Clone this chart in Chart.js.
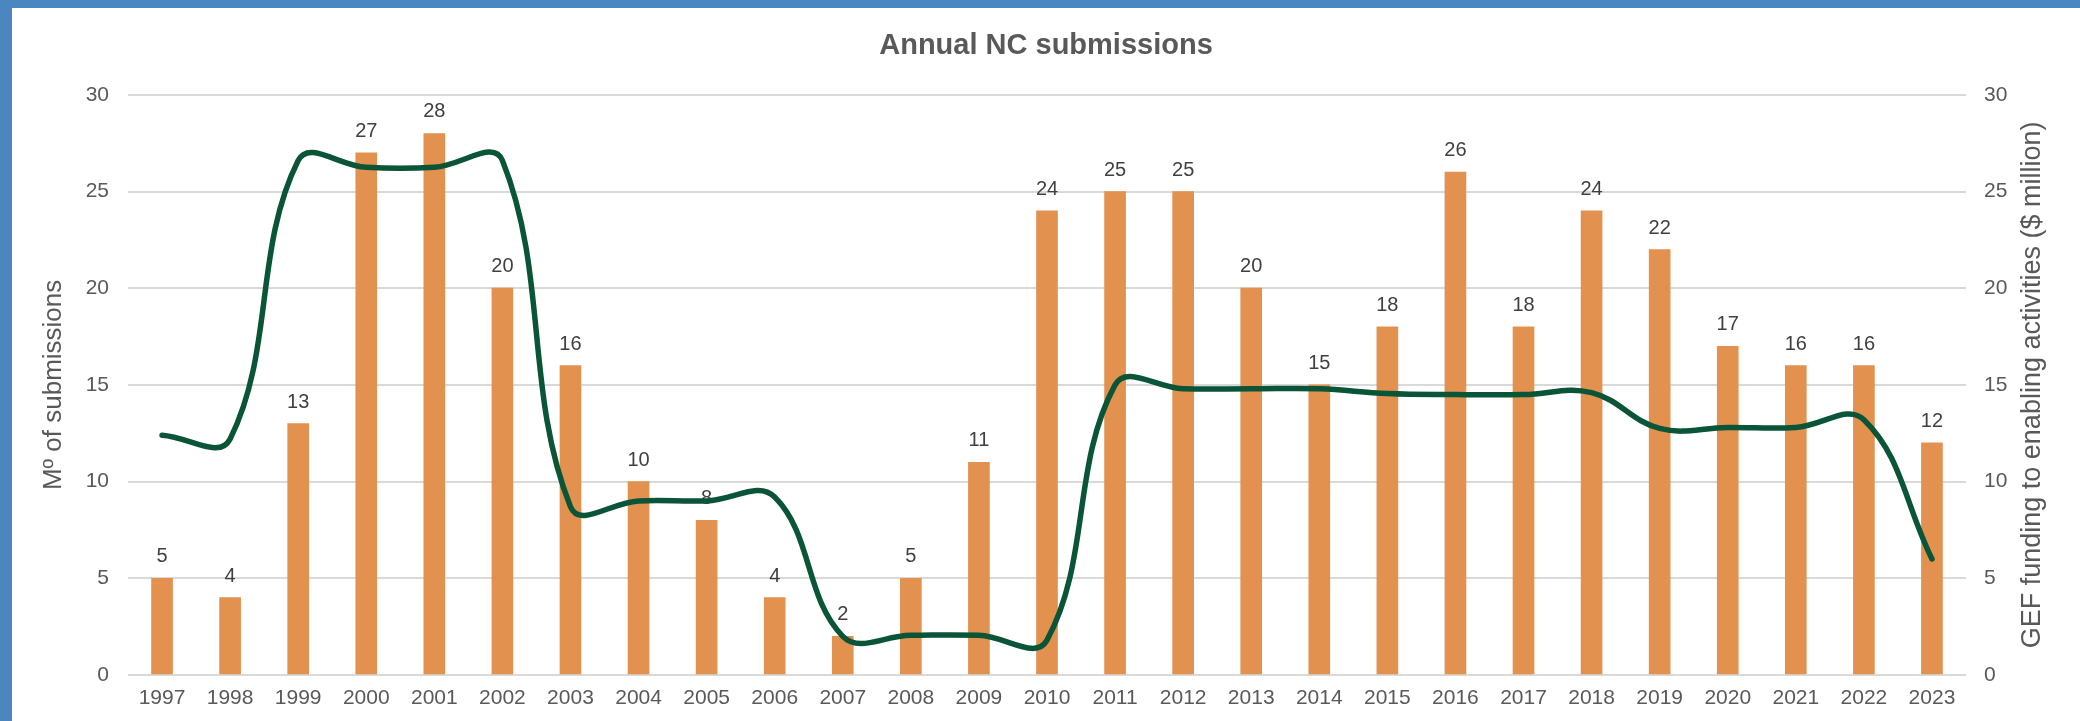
<!DOCTYPE html>
<html>
<head>
<meta charset="utf-8">
<script src="https://cdn.jsdelivr.net/npm/chart.js@4/dist/chart.umd.min.js"></script>
<style>
  html, body { margin: 0; padding: 0; background: #4A86BF; width: 2080px; height: 721px; overflow: hidden; }
  #wrap { position: absolute; left: 12px; top: 8px; width: 2068px; height: 713px; background: #ffffff; }
  canvas { display: block; }
</style>
</head>
<body>
<div id="wrap"><canvas id="ncChart" width="2068" height="713"></canvas></div>
<script>
/** 연도 (카테고리) */
const years = ['1997', '1998', '1999', '2000', '2001', '2002', '2003', '2004', '2005', '2006',
  '2007', '2008', '2009', '2010', '2011', '2012', '2013', '2014', '2015', '2016',
  '2017', '2018', '2019', '2020', '2021', '2022', '2023'];
/** 연간 NC 제출 건수 (막대) */
const submissions = [5, 4, 13, 27, 28, 20, 16, 10, 8, 4, 2, 5, 11, 24, 25, 25, 20, 15, 18, 26, 18, 24, 22, 17, 16, 16, 12];
/** GEF 지원금 ($ million, 선) */
const gefFunding = [12.4, 12.2, 26.6, 26.25, 26.25, 26.6, 8.7, 9.0, 9.0, 9.2, 2.0, 2.05, 2.05, 1.8,
  15.0, 14.8, 14.8, 14.8, 14.55, 14.5, 14.5, 14.6, 12.75, 12.8, 12.8, 13.2, 6.0];
/** 축 눈금 */
const axisTicks = [0, 5, 10, 15, 20, 25, 30];

const fontFamily = "'Liberation Sans', Arial, sans-serif";
const textGray = '#595959';

/** 막대 위 숫자 라벨 (선보다 먼저 그림) */
const barLabels = {
  id: 'barLabels',
  afterDatasetDraw(chart, args) {
    if (args.index !== 0) return;
    const ctx = chart.ctx;
    ctx.save();
    ctx.font = `20px ${fontFamily}`;
    ctx.fillStyle = '#404040';
    ctx.textAlign = 'center';
    ctx.textBaseline = 'alphabetic';
    args.meta.data.forEach((bar, i) => {
      ctx.fillText(String(submissions[i]), bar.x, bar.y - 16);
    });
    ctx.restore();
  }
};

/** 오른쪽 축 제목 (아래에서 위로 읽힘) */
const rightTitle = {
  id: 'rightTitle',
  afterDraw(chart) {
    const ctx = chart.ctx;
    const area = chart.chartArea;
    ctx.save();
    ctx.translate(2021, (area.top + area.bottom) / 2);
    ctx.rotate(-Math.PI / 2);
    ctx.font = `27px ${fontFamily}`;
    ctx.fillStyle = textGray;
    ctx.textAlign = 'center';
    ctx.textBaseline = 'middle';
    ctx.fillText('GEF funding to enabling activities ($ million)', 0, 0);
    ctx.restore();
  }
};

const ctx = document.getElementById('ncChart').getContext('2d');
new Chart(ctx, {
  data: {
    labels: years,
    datasets: [{
      type: 'bar',
      label: 'NC submissions',
      data: submissions,
      backgroundColor: '#E2914F',
      barThickness: 21,
      yAxisID: 'y',
      order: 1
    }, {
      type: 'line',
      label: 'GEF funding',
      data: gefFunding,
      borderColor: '#0A5538',
      borderWidth: 5.5,
      borderCapStyle: 'round',
      pointRadius: 0,
      tension: 0.4,
      fill: false,
      yAxisID: 'y1',
      order: 0
    }]
  },
  options: {
    responsive: false,
    animation: false,
    devicePixelRatio: 1,
    layout: { padding: 0 },
    plugins: {
      legend: { display: false },
      tooltip: { enabled: false },
      title: {
        display: true,
        text: 'Annual NC submissions',
        color: textGray,
        font: { family: fontFamily, size: 29, weight: 'bold' },
        padding: { top: 21, bottom: 31 }
      }
    },
    scales: {
      x: {
        grid: { display: false, drawTicks: false },
        border: { display: false },
        ticks: { color: textGray, font: { family: fontFamily, size: 21 }, padding: 11, maxRotation: 0, autoSkip: false },
        afterFit(scale) { scale.height = 46; }
      },
      y: {
        position: 'left',
        min: 0,
        max: 30,
        afterBuildTicks(scale) { scale.ticks = axisTicks.map(v => ({ value: v })); },
        grid: { color: '#D9D9D9', lineWidth: 2, drawTicks: false },
        border: { display: false },
        ticks: { color: textGray, font: { family: fontFamily, size: 21 }, padding: 19 },
        title: {
          display: true,
          text: 'Mº of submissions',
          color: textGray,
          font: { family: fontFamily, size: 26 },
          padding: { top: 26 }
        },
        afterFit(scale) { scale.width = 116; }
      },
      y1: {
        position: 'right',
        min: 0,
        max: 30,
        afterBuildTicks(scale) { scale.ticks = axisTicks.map(v => ({ value: v })); },
        grid: { drawOnChartArea: false, drawTicks: false },
        border: { display: false },
        ticks: { color: textGray, font: { family: fontFamily, size: 21 }, padding: 18 },
        afterFit(scale) { scale.width = 114; }
      }
    }
  },
  plugins: [barLabels, rightTitle]
});
</script>
</body>
</html>
